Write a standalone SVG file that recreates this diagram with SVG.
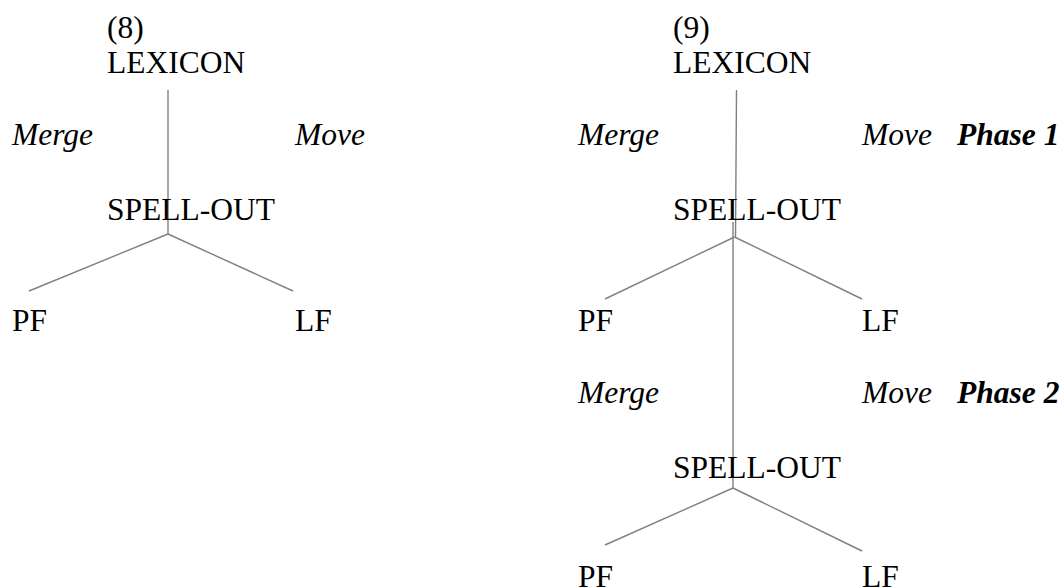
<svg xmlns="http://www.w3.org/2000/svg" width="1063" height="588" viewBox="0 0 1063 588">
<style>
text{font-family:'Liberation Serif','Times New Roman',Times,'DejaVu Serif',serif;font-size:31.5px;fill:#000}
.i{font-style:italic}
.b{font-style:italic;font-weight:bold}
.c line{stroke:#808080;stroke-width:1.4;fill:none}
</style>
<rect width="1063" height="588" fill="#fff"/>
<g id="connectors" class="c">
<line x1="168" y1="90" x2="168" y2="234"/>
<line x1="168" y1="234" x2="29" y2="291"/>
<line x1="168" y1="234" x2="293" y2="291"/>
<line x1="736.5" y1="90" x2="735.5" y2="238"/>
<line x1="733" y1="222" x2="733" y2="488"/>
<line x1="734.5" y1="237" x2="605" y2="299"/>
<line x1="734.5" y1="237" x2="862" y2="299"/>
<line x1="733" y1="488" x2="605" y2="545"/>
<line x1="733" y1="488" x2="862" y2="551"/>
</g>
<g id="label8"><text x="107" y="38" font-family="Liberation Serif, serif">(8)</text></g>
<g id="lexicon8"><text x="107" y="73">LEXICON</text></g>
<g id="merge8"><text class="i" x="12" y="145">Merge</text></g>
<g id="move8"><text class="i" x="295" y="145">Move</text></g>
<g id="spellout8"><text x="107" y="220">SPELL-OUT</text></g>
<g id="pf8"><text x="12" y="331">PF</text></g>
<g id="lf8"><text x="295" y="331">LF</text></g>
<g id="label9"><text x="673" y="38">(9)</text></g>
<g id="lexicon9"><text x="673" y="73">LEXICON</text></g>
<g id="merge9a"><text class="i" x="578" y="145">Merge</text></g>
<g id="move9a"><text class="i" x="862" y="145">Move</text></g>
<g id="phase1"><text class="b" x="957" y="145">Phase 1</text></g>
<g id="spellout9a"><text x="673" y="220">SPELL-OUT</text></g>
<g id="pf9a"><text x="578" y="331">PF</text></g>
<g id="lf9a"><text x="862" y="331">LF</text></g>
<g id="merge9b"><text class="i" x="578" y="403">Merge</text></g>
<g id="move9b"><text class="i" x="862" y="403">Move</text></g>
<g id="phase2"><text class="b" x="957" y="403">Phase 2</text></g>
<g id="spellout9b"><text x="673" y="478">SPELL-OUT</text></g>
<g id="pf9b"><text x="578" y="587">PF</text></g>
<g id="lf9b"><text x="862" y="587">LF</text></g>
</svg>
